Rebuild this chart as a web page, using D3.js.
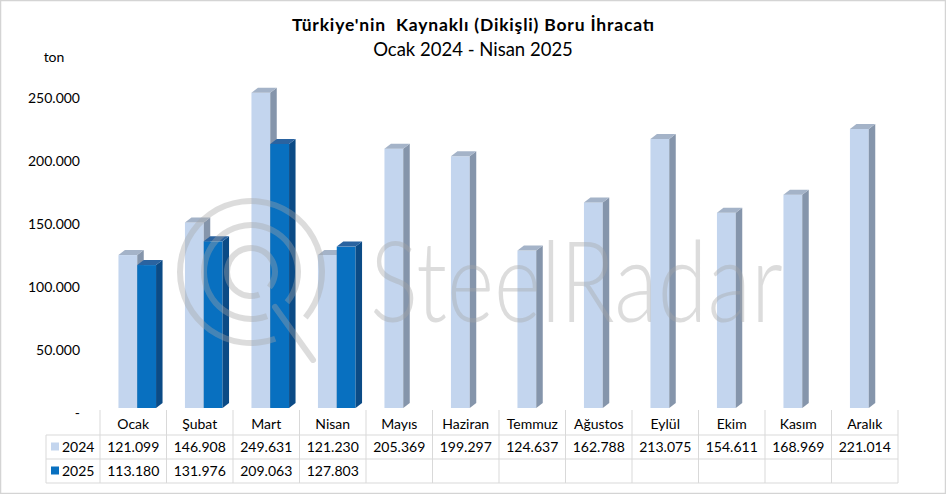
<!DOCTYPE html>
<html>
<head>
<meta charset="utf-8">
<script src="https://cdn.jsdelivr.net/npm/d3@7"></script>
<style>
  html, body { margin: 0; padding: 0; background: #fff; }
  svg { display: block; font-family: Lato, "Open Sans", sans-serif; }
</style>
</head>
<body>
<svg id="chart" width="946" height="494"></svg>
<script>
// ---- data ----
const months = ["Ocak","Şubat","Mart","Nisan","Mayıs","Haziran","Temmuz","Ağustos","Eylül","Ekim","Kasım","Aralık"];
const values2024 = [121099,146908,249631,121230,205369,199297,124637,162788,213075,154611,168969,221014];
const values2025 = [113180,131976,209063,127803,null,null,null,null,null,null,null,null];
const seriesNames = ["2024","2025"];
const yTicks = [0,50000,100000,150000,200000,250000];
const titleText = "Türkiye'nin  Kaynaklı (Dikişli) Boru İhracatı";
const subtitleText = "Ocak 2024 - Nisan 2025";
const unitText = "ton";

// ---- setup ----
const W = 946, H = 494;
const svg = d3.select("#chart");
const fmt = v => (v == null ? "" : d3.format(",")(v).replace(/,/g, "."));

const x = d3.scaleBand().domain(months).range([100, 898]).padding(0);
const y = d3.scaleLinear().domain([0, 250000]).range([408, 92.3]);

const barW = 18.8, dx = 6.5, dy = 5;
const colors = {
  "2024": { front: "#C3D5EE", side: "#8595AB", top: "#A4B3C8", key: "#C3D5EE" },
  "2025": { front: "#0870C0", side: "#0B4B86", top: "#2A63A0", key: "#0870C0" }
};

// border
svg.append("rect").attr("x", 0.5).attr("y", 0.5).attr("width", W - 1).attr("height", H - 1)
  .attr("fill", "#fff").attr("stroke", "#D4D4D4").attr("stroke-width", 1.5);

// title
svg.append("text").attr("x", 473).attr("y", 31).attr("text-anchor", "middle")
  .attr("font-size", 17.5).attr("font-weight", "bold").attr("fill", "#000")
  .attr("textLength", 362).attr("lengthAdjust", "spacing")
  .attr("xml:space", "preserve").style("white-space", "pre").text(titleText);
svg.append("text").attr("x", 473).attr("y", 56).attr("text-anchor", "middle")
  .attr("font-size", 18.5).attr("fill", "#000").text(subtitleText);

// unit
svg.append("text").attr("x", 54).attr("y", 62).attr("text-anchor", "middle")
  .attr("font-size", 14).attr("fill", "#000").text(unitText);

// y labels
svg.append("g").selectAll("text").data(yTicks).join("text")
  .attr("x", 80).attr("y", d => y(d) + 5.5)
  .attr("dy", "0.35em").attr("text-anchor", "end")
  .attr("font-size", 14).attr("fill", "#000")
  .text(d => d === 0 ? "-" : fmt(d));

// bars
const barsG = svg.append("g");
function drawBar(left, v, c) {
  const y0 = y(0), yv = y(v);
  const g = barsG.append("g");
  g.append("rect").attr("x", left).attr("y", yv).attr("width", barW).attr("height", y0 - yv).attr("fill", c.front);
  g.append("polygon").attr("points", [
    [left + barW, yv], [left + barW + dx, yv - dy], [left + barW + dx, y0 - dy], [left + barW, y0]
  ].map(p => p.join(",")).join(" ")).attr("fill", c.side);
  g.append("polygon").attr("points", [
    [left, yv], [left + dx, yv - dy], [left + barW + dx, yv - dy], [left + barW, yv]
  ].map(p => p.join(",")).join(" ")).attr("fill", c.top);
}
months.forEach((m, i) => {
  const cx = x(m) + x.bandwidth() / 2;
  const left = cx - 14.8;
  if (values2024[i] != null) drawBar(left, values2024[i], colors["2024"]);
  if (values2025[i] != null) drawBar(left + barW, values2025[i], colors["2025"]);
});

// watermark (semi-transparent overlay)
const wm = svg.append("g").attr("opacity", 0.38).attr("fill", "#A6A6A6").attr("stroke", "#A6A6A6");
const cxL = 251, cyL = 272;
const rad = Math.PI / 180;
[[68, 74], [44, 50], [21, 27]].forEach(([ri, ro]) => {
  wm.append("path")
    .attr("transform", `translate(${cxL},${cyL})`)
    .attr("stroke", "none")
    .attr("d", d3.arc()({ innerRadius: ri, outerRadius: ro, startAngle: 160 * rad, endAngle: 490 * rad }));
});
wm.append("line")
  .attr("x1", cxL + 24).attr("y1", cyL + 35).attr("x2", cxL + 62).attr("y2", cyL + 88)
  .attr("stroke-width", 6).attr("stroke-linecap", "round").attr("fill", "none");
wm.append("text").attr("x", 370).attr("y", 322)
  .attr("stroke", "none").attr("font-size", 112).attr("font-weight", 300)
  .attr("textLength", 413).attr("lengthAdjust", "spacingAndGlyphs")
  .text("SteelRadar");

// data table
const tG = svg.append("g");
const lineC = "#D9D9D9";
const rowY = [435, 459, 483];
const xR = x.range()[1];
rowY.forEach(yy => {
  tG.append("line").attr("x1", 46).attr("x2", xR).attr("y1", yy).attr("y2", yy)
    .attr("stroke", lineC).attr("stroke-width", 1);
});
const vx = months.map(m => x(m)).concat([xR]);
tG.selectAll("line.v").data(vx).join("line").attr("class", "v")
  .attr("x1", d => d).attr("x2", d => d).attr("y1", 410).attr("y2", 483)
  .attr("stroke", lineC).attr("stroke-width", 1);
tG.append("line").attr("x1", 46).attr("x2", 46).attr("y1", 435).attr("y2", 483)
  .attr("stroke", lineC).attr("stroke-width", 1);

// category labels
tG.selectAll("text.cat").data(months).join("text").attr("class", "cat")
  .attr("x", d => x(d) + x.bandwidth() / 2).attr("y", 424).attr("dy", "0.35em")
  .attr("text-anchor", "middle").attr("font-size", 14).attr("fill", "#000").text(d => d);

// value rows
[values2024, values2025].forEach((vals, r) => {
  const yy = (rowY[r] + rowY[r + 1]) / 2;
  tG.selectAll(`text.val${r}`).data(vals).join("text").attr("class", `val${r}`)
    .attr("x", (d, i) => x(months[i]) + x.bandwidth() / 2).attr("y", yy).attr("dy", "0.35em")
    .attr("text-anchor", "middle").attr("font-size", 14).attr("fill", "#000").text(d => fmt(d));
  tG.append("rect").attr("x", 51).attr("y", yy - 4.5).attr("width", 8).attr("height", 8)
    .attr("fill", colors[seriesNames[r]].key);
  tG.append("text").attr("x", 62).attr("y", yy).attr("dy", "0.35em")
    .attr("font-size", 14).attr("fill", "#000").text(seriesNames[r]);
});
</script>
</body>
</html>
